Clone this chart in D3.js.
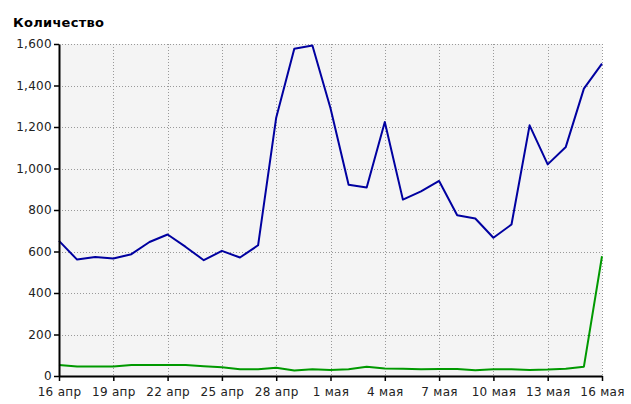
<!DOCTYPE html>
<meta charset="utf-8">
<style>
body { margin: 0; background: #fff; }
.grid line { stroke: #999; stroke-dasharray: 1,2; }
.axis text { font-family: "DejaVu Sans", sans-serif; font-size: 12px; fill: #222; letter-spacing: 0.3px; }
.axis path, .axis line { stroke: #000; }
.line { fill: none; stroke-width: 2px; stroke-linejoin: round; }
</style>
<body>
<script src="https://d3js.org/d3.v7.min.js"></script>
<script>
// days 16 апр .. 16 мая
var days = ["16 апр","17 апр","18 апр","19 апр","20 апр","21 апр","22 апр","23 апр","24 апр","25 апр",
  "26 апр","27 апр","28 апр","29 апр","30 апр","1 мая","2 мая","3 мая","4 мая","5 мая",
  "6 мая","7 мая","8 мая","9 мая","10 мая","11 мая","12 мая","13 мая","14 мая","15 мая","16 мая"];

var blue = [651, 561, 574, 566, 587, 646, 682, 622, 558, 603,
  571, 630, 1245, 1577, 1593, 1290, 922, 908, 1224, 850,
  890, 940, 775, 759, 666, 730, 1208, 1020, 1104, 1385, 1505];

var green = [53, 46, 46, 46, 53, 53, 53, 53, 47, 42,
  33, 33, 40, 27, 32, 29, 33, 45, 36, 35,
  32, 34, 34, 28, 32, 32, 29, 31, 35, 45, 577];

var yTicks = [0, 200, 400, 600, 800, 1000, 1200, 1400, 1600];
var xTicks = days.filter(function(d, i) { return i % 3 == 0; });

var margin = {top: 44, right: 29, bottom: 28, left: 59},
    width = 631 - margin.left - margin.right,
    height = 404 - margin.top - margin.bottom;

var x = d3.scalePoint().domain(days).range([0, width]).padding(0);
var y = d3.scaleLinear().domain([0, 1600]).range([height, 0]);

var svg = d3.select("body").append("svg")
    .attr("width", 631)
    .attr("height", 404);

svg.append("text")
    .attr("x", 13)
    .attr("y", 27)
    .style("font-family", "DejaVu Sans, sans-serif")
    .style("font-size", "13px")
    .style("font-weight", "bold")
    .style("letter-spacing", "0.3px")
    .text("Количество");

var g = svg.append("g")
    .attr("transform", "translate(" + margin.left + "," + margin.top + ")");

// plot background
g.append("rect")
    .attr("width", width)
    .attr("height", height)
    .attr("fill", "#f4f4f4");

// grid
g.append("g").attr("class", "grid")
  .selectAll("line").data(yTicks.filter(function(d) { return d > 0; }))
  .enter().append("line")
    .attr("x1", 0).attr("x2", width)
    .attr("y1", function(d) { return Math.round(y(d)) + 0.5; })
    .attr("y2", function(d) { return Math.round(y(d)) + 0.5; });

g.append("g").attr("class", "grid")
  .selectAll("line").data(xTicks.slice(1))
  .enter().append("line")
    .attr("y1", 0).attr("y2", height)
    .attr("x1", function(d) { return Math.round(x(d)) + 0.5; })
    .attr("x2", function(d) { return Math.round(x(d)) + 0.5; });

// lines
var line = d3.line()
    .x(function(d, i) { return x(days[i]); })
    .y(function(d) { return y(d); });

g.append("path").datum(green)
    .attr("class", "line")
    .attr("stroke", "#009900")
    .attr("d", line);

g.append("path").datum(blue)
    .attr("class", "line")
    .attr("stroke", "#0000a0")
    .attr("d", line);

// axes
g.append("g").attr("class", "axis")
    .attr("transform", "translate(0," + height + ")")
    .call(d3.axisBottom(x).tickValues(xTicks).tickSize(5).tickPadding(6).tickSizeOuter(0))
    .call(function(a) { a.select(".domain").attr("stroke-width", 2); a.selectAll("line").attr("stroke-width", 1.5); });

g.append("g").attr("class", "axis")
    .call(d3.axisLeft(y).tickValues(yTicks).tickFormat(d3.format(",")).tickSize(5).tickPadding(2).tickSizeOuter(0))
    .call(function(a) { a.select(".domain").attr("stroke-width", 2); a.selectAll("line").attr("stroke-width", 1.5); });
</script>
</body>
